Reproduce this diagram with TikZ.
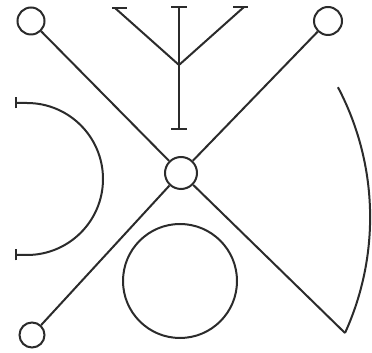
\documentclass[tikz,border=0pt]{standalone}
\usepackage{xcolor}
\usepackage{tikz}
\usetikzlibrary{arrows.meta}

\definecolor{ink}{HTML}{2B2B2B}

\begin{document}
\begin{tikzpicture}[
    x=1pt,y=1pt,
    ink/.style={draw=ink, line width=2pt},
    ring/.style={circle, draw=ink, line width=2pt, inner sep=0pt},
    bar/.style={ink, {Bar[width=#1,line width=2pt]}-{Bar[width=#1,line width=2pt]}}
]
\useasboundingbox (0,0) rectangle (372,353);

% Small rings and the crossing
\node[ring, minimum size=27pt] (tl) at (31,332) {};
\node[ring, minimum size=28pt] (tr) at (328,332) {};
\node[ring, minimum size=25pt] (bl) at (32,18) {};
\node[ring, minimum size=32pt] (mid) at (181,180) {};
\coordinate (br) at (345,20);

\draw[ink] (tl) -- (mid);
\draw[ink] (tr) -- (mid);
\draw[ink] (mid) -- (bl);
\draw[ink] (mid) -- (br);

% Large circle below the crossing
\node[ring, minimum size=114pt] (big) at (180,72) {};

% Arc on the right, closing at br
\draw[ink] (br) arc[start angle=-24.5, end angle=27.8, radius=279];

% Half circle on the left with bars at its ends
\coordinate (ht) at (15,250);
\coordinate (hb) at (15,98);
\draw[bar=11pt] (ht) -- ++(12,0) arc[start angle=90, end angle=-90, radius=76] -- (hb);

% Fork at the top
\coordinate (fj) at (179,288);
\coordinate (fl) at (115,345);
\coordinate (fr) at (244,346);
\coordinate (ft) at (179,347);
\coordinate (fb) at (179,223);
\draw[bar=16pt] (ft) -- (fb);
\draw[ink] (fl) -- (fj) -- (fr);
\draw[ink] (fl) ++(-3,0) -- ++(15,0);
\draw[ink] (fr) ++(-11,0) -- ++(15,0);
\end{tikzpicture}
\end{document}
